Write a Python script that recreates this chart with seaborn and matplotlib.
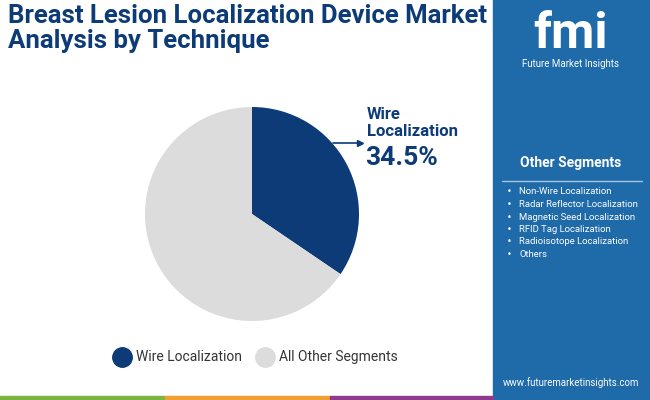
import matplotlib.pyplot as plt
import seaborn as sns
from matplotlib.patches import Rectangle

segments = ["Wire Localization", "All Other Segments"]
shares = [34.5, 65.5]
colors = ["#0d3b78", "#dcdcdc"]
other_segments = ["Non-Wire Localization", "Radar Reflector Localization",
                  "Magnetic Seed Localization", "RFID Tag Localization",
                  "Radioisotope Localization", "Others"]

sns.set_theme(style="white")
fig = plt.figure(figsize=(6.5, 4), dpi=100)
fig.patch.set_facecolor("white")

# title
fig.text(0.012, 0.99, "Breast Lesion Localization Device Market\nAnalysis by Technique",
         ha="left", va="top", fontsize=18.5, fontweight="bold", color="#0d3b78",
         family="Roboto", linespacing=1.05)

# pie
r = 107
ax = fig.add_axes([(252 - r) / 650, 1 - (214 + r) / 400, 2 * r / 650, 2 * r / 400])
ax.pie(shares, colors=colors, startangle=90, counterclock=False,
       wedgeprops=dict(linewidth=0))
ax.set_xlim(-1, 1)
ax.set_ylim(-1, 1)
ax.set_aspect("equal")

# callout
fig.text(367 / 650, 1 - 123 / 400, "Wire\nLocalization", ha="left", va="center",
         fontsize=12, fontweight="bold", color="#0d3b78", family="Roboto", linespacing=1.15)
fig.text(365 / 650, 1 - 158 / 400, "34.5%", ha="left", va="center",
         fontsize=19, fontweight="bold", color="#0d3b78", family="Roboto")
fig.add_artist(plt.Line2D([333 / 650, 360 / 650], [1 - 143 / 400, 1 - 143 / 400],
                          color="#0d3b78", lw=1.2))
fig.add_artist(plt.Line2D([360 / 650], [1 - 143 / 400], marker=">", color="#0d3b78", ms=5))

# legend
for i, (lab, c) in enumerate(zip(segments, colors)):
    x = [122, 265][i]
    fig.add_artist(plt.Line2D([x / 650], [1 - 357 / 400], marker="o", ms=14,
                              color=c, lw=0))
    fig.text((x + 14) / 650, 1 - 357 / 400, lab, ha="left", va="center",
             fontsize=10, color="#333333", family="Roboto")

# right panel
panel = "#1f6aa8"
fig.add_artist(Rectangle((493 / 650, 0), 157 / 650, 1, transform=fig.transFigure,
                         color=panel, zorder=0))
fig.text(571 / 650, 1 - 35 / 400, "fmi", ha="center", va="center", fontsize=36,
         fontweight="bold", color="white", family="Roboto")
fig.text(571 / 650, 1 - 64 / 400, "Future Market Insights", ha="center", va="center",
         fontsize=7, color="white", family="Roboto")
fig.text(571 / 650, 1 - 163 / 400, "Other Segments", ha="center", va="center",
         fontsize=10, fontweight="bold", color="white", family="Roboto")
fig.add_artist(plt.Line2D([502 / 650, 642 / 650], [1 - 181 / 400] * 2, color="#a9c4dd", lw=1))
for i, s in enumerate(other_segments):
    y = 1 - (192 + i * 12.5) / 400
    fig.text(509 / 650, y, "•", ha="center", va="center", fontsize=6, color="white")
    fig.text(519 / 650, y, s, ha="left", va="center", fontsize=6.8, color="white",
             family="Roboto")
fig.text(571 / 650, 1 - 383 / 400, "www.futuremarketinsights.com", ha="center",
         va="center", fontsize=7, color="white", family="Roboto")

# bottom strip
for x0, x1, c in [(0, 165, "#7cb342"), (165, 330, "#f0a030"), (330, 493, "#8e3a8e")]:
    fig.add_artist(Rectangle((x0 / 650, 0), (x1 - x0) / 650, 4 / 400,
                             transform=fig.transFigure, color=c))

fig.savefig("out.png", dpi=100)
